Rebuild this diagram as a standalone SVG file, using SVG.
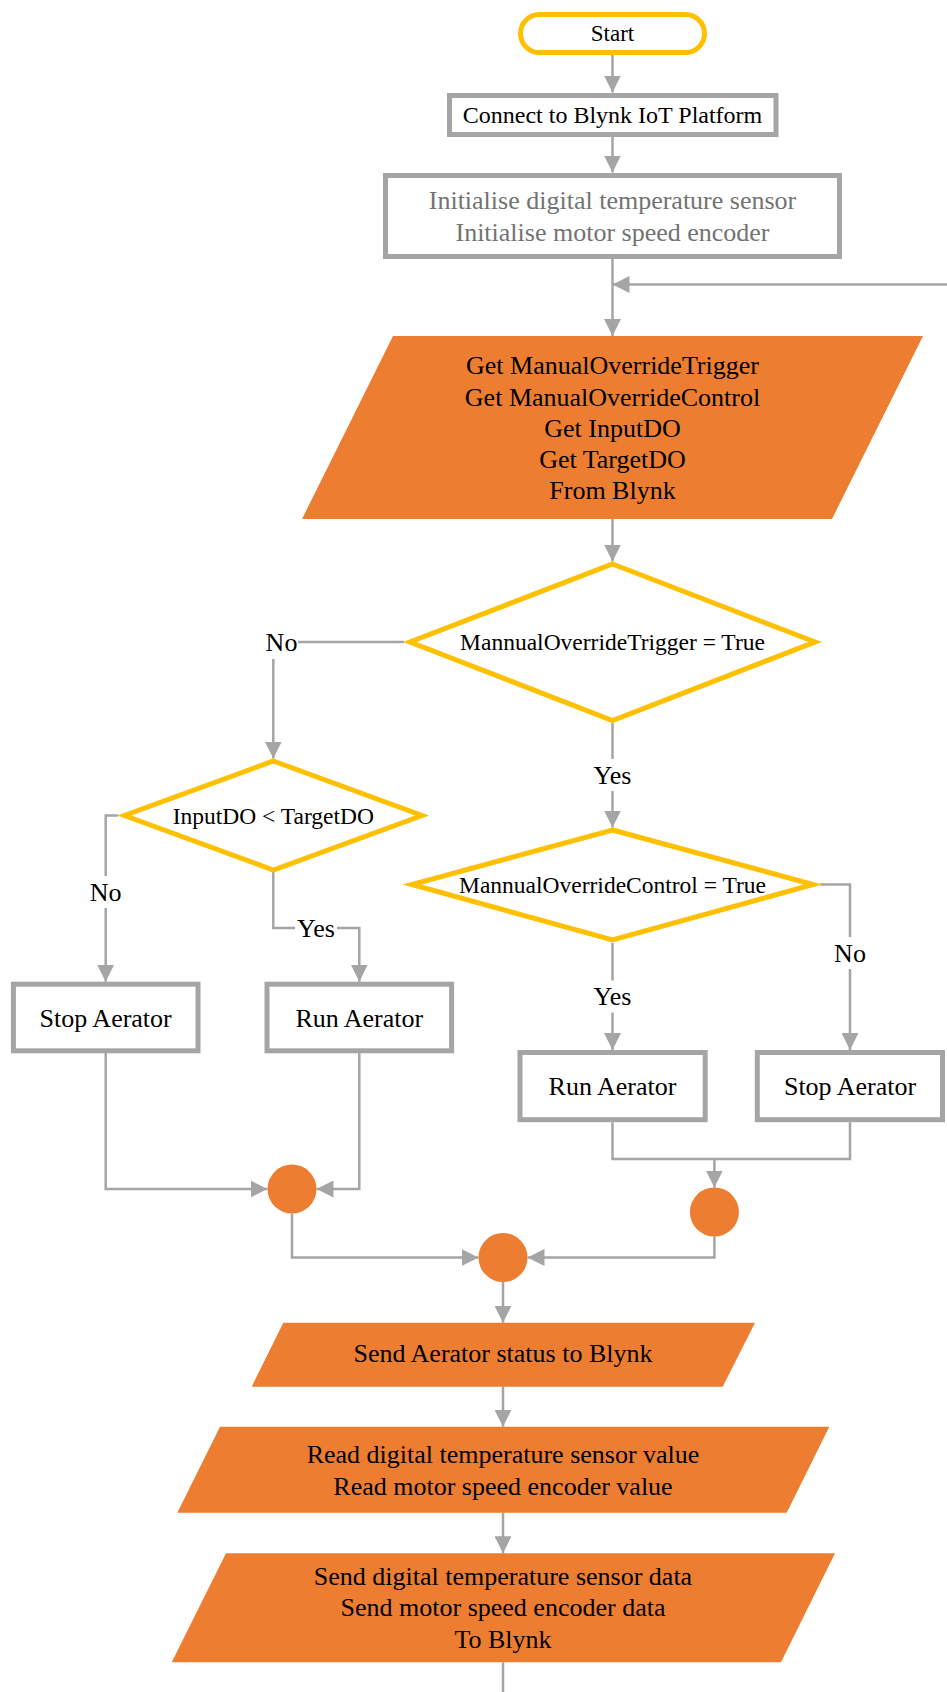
<svg xmlns="http://www.w3.org/2000/svg" width="947" height="1692" viewBox="0 0 947 1692">
<style>
.t{font-family:"Liberation Serif","Times New Roman",serif;fill:#000;text-anchor:middle;dominant-baseline:central;font-size:26px}
.g{fill:#737373}
.d{font-size:23.5px}
.box{fill:#fff;stroke:#A5A5A5;stroke-width:5}
.dec{fill:#fff;stroke:#FFC000;stroke-width:5;stroke-linejoin:miter;stroke-miterlimit:10}
.io{fill:#ED7D31}
.c{fill:none;stroke:#A5A5A5;stroke-width:2.5}
.a{marker-end:url(#ah)}
.lb{fill:#fff}
</style>
<defs>
<marker id="ah" markerUnits="userSpaceOnUse" markerWidth="17" markerHeight="17" viewBox="0 0 17 17" refX="17" refY="8.5" orient="auto">
<path d="M0,0 L17,8.5 L0,17 z" fill="#A5A5A5"/>
</marker>
</defs>
<rect width="947" height="1692" fill="#fff"/>

<g id="connectors">
<path class="c a" d="M612.5,55 V92.5"/>
<path class="c a" d="M612.5,137 V172.5"/>
<path class="c a" d="M612.5,259 V336"/>
<path class="c a" d="M947,284.5 H612.5"/>
<path class="c a" d="M612.5,519 V561.5"/>
<path class="c a" d="M404,642 H273.3 V758.5"/>
<path class="c a" d="M612.5,723 V827.5"/>
<path class="c a" d="M118,815.5 H105.7 V981.7"/>
<path class="c a" d="M273.3,872 V928 H359.3 V981.7"/>
<path class="c a" d="M612.5,943 V1050"/>
<path class="c a" d="M820,884.5 H850 V1050"/>
<path class="c a" d="M105.7,1053 V1189 H267.5"/>
<path class="c a" d="M359.3,1053 V1189 H316.5"/>
<path class="c" d="M612.5,1122.3 V1159 H850 V1122.3"/>
<path class="c a" d="M714.4,1159 V1187.5"/>
<path class="c a" d="M292,1213.5 V1257.5 H478.5"/>
<path class="c a" d="M714.4,1236.5 V1257.5 H527.5"/>
<path class="c a" d="M503,1282 V1322.7"/>
<path class="c a" d="M503,1386.7 V1426.7"/>
<path class="c a" d="M503,1512.7 V1553.3"/>
<path class="c" d="M503,1662.3 V1692"/>
<rect class="lb" x="265" y="625" width="33" height="34"/>
<text class="t" x="281.5" y="642">No</text>
<rect class="lb" x="591" y="759" width="43" height="32"/>
<text class="t" x="612.5" y="775">Yes</text>
<rect class="lb" x="89" y="876" width="33" height="32"/>
<text class="t" x="105.7" y="892">No</text>
<rect class="lb" x="295" y="912" width="42" height="32"/>
<text class="t" x="316" y="928">Yes</text>
<rect class="lb" x="591" y="980.5" width="43" height="32"/>
<text class="t" x="612.5" y="996.5">Yes</text>
<rect class="lb" x="834" y="937" width="33" height="32"/>
<text class="t" x="850" y="953">No</text>
</g>

<g id="start">
<rect x="520.5" y="14.5" width="184" height="38" rx="19" fill="#fff" stroke="#FFC000" stroke-width="5"/>
<text class="t" x="612.5" y="33.5" style="font-size:23px">Start</text>
</g>
<g id="connect">
<rect class="box" x="449.5" y="95.5" width="326.5" height="39"/>
<text class="t" x="612.5" y="115" style="font-size:24px">Connect to Blynk IoT Platform</text>
</g>
<g id="init">
<rect class="box" x="385.5" y="175.5" width="454" height="81"/>
<text class="t g" x="612.5" y="200.5">Initialise digital temperature sensor</text>
<text class="t g" x="612.5" y="232">Initialise motor speed encoder</text>
</g>
<g id="get-inputs">
<polygon class="io" points="393,336 923,336 832,519 302,519"/>
<text class="t" x="612.5" y="365.5">Get ManualOverrideTrigger</text>
<text class="t" x="612.5" y="397">Get ManualOverrideControl</text>
<text class="t" x="612.5" y="428">Get InputDO</text>
<text class="t" x="612.5" y="459">Get TargetDO</text>
<text class="t" x="612.5" y="490.5">From Blynk</text>
</g>
<g id="dec-trigger">
<polygon class="dec" points="612.5,564 815,642 612.5,720.5 410,642"/>
<text class="t d" x="612.5" y="642">MannualOverrideTrigger = True</text>
</g>
<g id="dec-do">
<polygon class="dec" points="273.3,761 422,815.5 273.3,870 124.5,815.5"/>
<text class="t d" x="273.3" y="816">InputDO &lt; TargetDO</text>
</g>
<g id="dec-control">
<polygon class="dec" points="612.5,830 813,884.5 612.5,940 412,884.5"/>
<text class="t d" x="612.5" y="884.5">MannualOverrideControl = True</text>
</g>
<g id="stop-left">
<rect class="box" x="13.4" y="984.2" width="184.6" height="66.6"/>
<text class="t" x="105.7" y="1018">Stop Aerator</text>
</g>
<g id="run-left">
<rect class="box" x="267" y="984.2" width="184.6" height="66.6"/>
<text class="t" x="359.3" y="1018">Run Aerator</text>
</g>
<g id="run-right">
<rect class="box" x="520" y="1052.5" width="185.2" height="67.2"/>
<text class="t" x="612.5" y="1086.5">Run Aerator</text>
</g>
<g id="stop-right">
<rect class="box" x="757.3" y="1052.5" width="185.2" height="67.2"/>
<text class="t" x="850" y="1086.5">Stop Aerator</text>
</g>
<g id="merge-left"><circle class="io" cx="292" cy="1189" r="24.5"/></g>
<g id="merge-right"><circle class="io" cx="714.4" cy="1212" r="24.5"/></g>
<g id="merge-main"><circle class="io" cx="503" cy="1257.5" r="24.5"/></g>
<g id="send-status">
<polygon class="io" points="283.3,1322.7 755,1322.7 722.7,1386.7 251.7,1386.7"/>
<text class="t" x="503" y="1353">Send Aerator status to Blynk</text>
</g>
<g id="read-sensors">
<polygon class="io" points="220,1426.7 829.3,1426.7 786.7,1512.7 177.3,1512.7"/>
<text class="t" x="503" y="1454.5">Read digital temperature sensor value</text>
<text class="t" x="503" y="1486">Read motor speed encoder value</text>
</g>
<g id="send-data">
<polygon class="io" points="226,1553.3 835,1553.3 781,1662.3 171.7,1662.3"/>
<text class="t" x="503" y="1576">Send digital temperature sensor data</text>
<text class="t" x="503" y="1607.5">Send motor speed encoder data</text>
<text class="t" x="503" y="1639">To Blynk</text>
</g>
</svg>
